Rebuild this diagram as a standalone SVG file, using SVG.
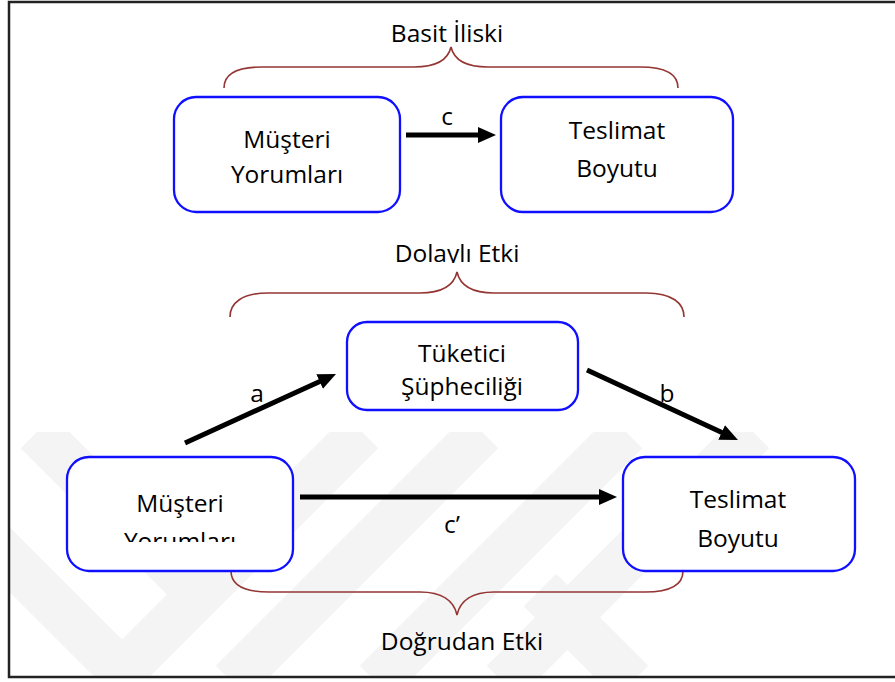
<svg xmlns="http://www.w3.org/2000/svg" width="895" height="682" viewBox="0 0 895 682">
<style>
.box{fill:#fff;stroke:#1010ff;stroke-width:2.3}
.t{font-family:"Open Sans","Noto Sans","Liberation Sans",sans-serif;font-size:24.5px;fill:#000;text-anchor:middle}
.brace{fill:none;stroke:#943634;stroke-width:1.6}
.arr{stroke:#000;stroke-width:5;fill:none;marker-end:url(#ah)}
.wm{stroke:#f4f4f4;stroke-width:46;fill:none}
</style>
<defs>
<marker id="ah" markerUnits="userSpaceOnUse" markerWidth="20" markerHeight="18" refX="8" refY="8" orient="auto">
<path d="M0,0 L18,8 L0,16 Z" fill="#000"/>
</marker>
<clipPath id="wmclip"><rect x="10" y="432" width="885" height="244"/></clipPath>
<clipPath id="clipDE"><rect x="300" y="220" width="300" height="43"/></clipPath>
<clipPath id="clipYor"><rect x="70" y="510" width="220" height="32"/></clipPath>
</defs>
<rect x="0" y="0" width="895" height="682" fill="#fff"/>
<g id="watermark" clip-path="url(#wmclip)">
<line class="wm" x1="362" y1="432" x2="112" y2="682"/>
<line class="wm" x1="482" y1="432" x2="232" y2="682"/>
<line class="wm" x1="626" y1="432" x2="376" y2="682"/>
<line class="wm" x1="753" y1="432" x2="503" y2="682"/>
<line class="wm" x1="37" y1="432" x2="185" y2="580"/>
<line class="wm" x1="-30" y1="520" x2="132" y2="682"/>
<line class="wm" x1="540" y1="590" x2="632" y2="682"/>
</g>
<rect x="9" y="2" width="900" height="675" fill="none" stroke="#222" stroke-width="2.5"/>

<g id="braces">
<path class="brace" d="M224,88 C224,75 236,67 262,67 L414,67 C436,67 448,60 451,47 C454,60 466,67 488,67 L640,67 C666,67 678,75 678,88"/>
<path class="brace" d="M230,317 C230,303 242,293 268,293 L420,293 C442,293 454,285 457,272 C460,285 472,293 494,293 L646,293 C672,293 684,303 684,317"/>
<path class="brace" d="M231,571 C231,584 243,592 269,592 L420,592 C442,592 454,601 457,615 C460,601 472,592 494,592 L645,592 C671,592 683,584 683,571"/>
</g>
<text class="t" x="447" y="42">Basit İliski</text>
<text class="t" x="457" y="262" clip-path="url(#clipDE)">Dolaylı Etki</text>
<text class="t" x="462" y="650">Doğrudan Etki</text>

<g id="node-musteri-top">
<rect class="box" x="174" y="97" width="226" height="115" rx="22"/>
<text class="t" x="287" y="148">Müşteri</text>
<text class="t" x="287" y="183">Yorumları</text>
</g>
<g id="node-teslimat-top">
<rect class="box" x="501" y="97" width="232" height="115" rx="22"/>
<text class="t" x="617" y="139">Teslimat</text>
<text class="t" x="617" y="177">Boyutu</text>
</g>
<g id="node-tuketici">
<rect class="box" x="347" y="322" width="231" height="88" rx="20"/>
<text class="t" x="462" y="362">Tüketici</text>
<text class="t" x="462" y="395">Şüpheciliği</text>
</g>
<g id="node-musteri-bottom">
<rect class="box" x="67" y="457" width="226" height="114" rx="22"/>
<text class="t" x="180" y="512">Müşteri</text>
<text class="t" x="180" y="550" clip-path="url(#clipYor)">Yorumları</text>
</g>
<g id="node-teslimat-bottom">
<rect class="box" x="623" y="457" width="232" height="114" rx="22"/>
<text class="t" x="738" y="508">Teslimat</text>
<text class="t" x="738" y="547">Boyutu</text>
</g>

<g id="connectors">
<line class="arr" x1="406" y1="135" x2="486" y2="135"/>
<line class="arr" x1="185" y1="443" x2="326.9" y2="378.2"/>
<line class="arr" x1="587" y1="370" x2="728.9" y2="435.8"/>
<line class="arr" x1="300" y1="497" x2="607" y2="497"/>
</g>
<text class="t" x="447" y="125">c</text>
<text class="t" x="257" y="402">a</text>
<text class="t" x="667" y="402">b</text>
<text class="t" x="452" y="533">c’</text>
</svg>
